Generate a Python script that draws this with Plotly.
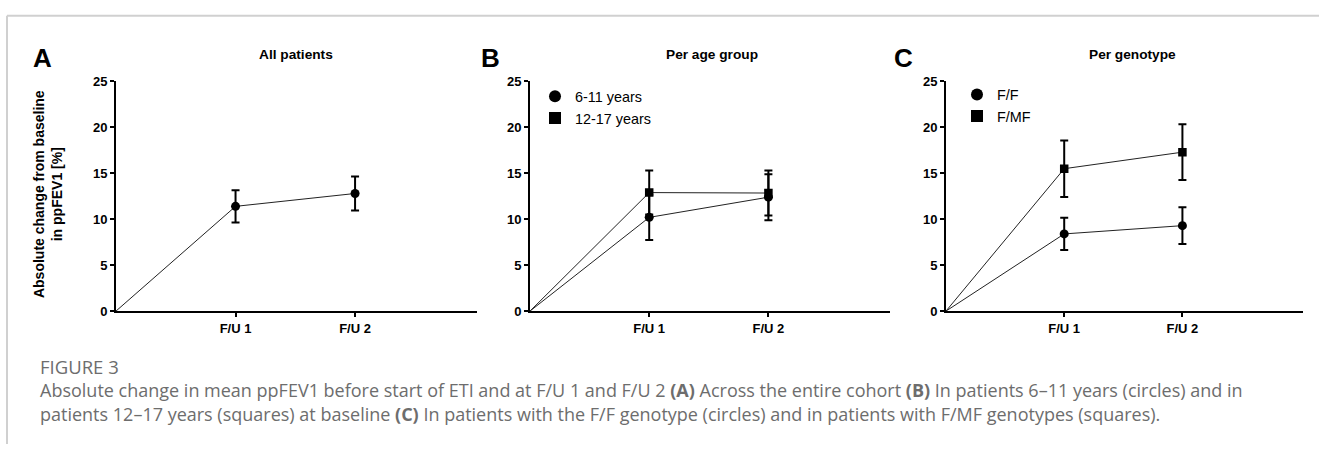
import plotly.graph_objects as go

W, H = 1319, 452

# ---- data ----
timepoints = [0, 1, 2]
tick_labels = ["F/U 1", "F/U 2"]

all_mean = [11.4, 12.8]
all_err = [1.75, 1.85]

age_6_11_mean = [10.2, 12.4]
age_6_11_err = [2.45, 2.5]
age_12_17_mean = [12.9, 12.85]
age_12_17_err = [2.4, 2.45]

ff_mean = [8.4, 9.3]
ff_err = [1.75, 2.0]
fmf_mean = [15.5, 17.3]
fmf_err = [3.07, 3.03]

panel_titles = ["All patients", "Per age group", "Per genotype"]
panel_letters = ["A", "B", "C"]

FONT = "Liberation Sans, Arial, sans-serif"

def px_x(p):
    return p / W

def px_y(p):
    return 1 - p / H

fig = go.Figure()

panels = [
    dict(xa="x", ya="y", series=[("All patients", all_mean, all_err, "circle")], legend=None),
    dict(xa="x2", ya="y2", series=[("6-11 years", age_6_11_mean, age_6_11_err, "circle"),
                                   ("12-17 years", age_12_17_mean, age_12_17_err, "square")], legend="legend"),
    dict(xa="x3", ya="y3", series=[("F/F", ff_mean, ff_err, "circle"),
                                   ("F/MF", fmf_mean, fmf_err, "square")], legend="legend2"),
]

for p in panels:
    for name, mean, err, sym in p["series"]:
        fig.add_trace(go.Scatter(
            x=timepoints, y=[0] + mean, mode="lines",
            line=dict(color="#222222", width=1),
            xaxis=p["xa"], yaxis=p["ya"], showlegend=False, hoverinfo="skip"))
        fig.add_trace(go.Scatter(
            x=timepoints[1:], y=mean, mode="markers",
            marker=dict(symbol=sym, size=9 if sym == "circle" else 8.5, color="black"),
            error_y=dict(type="data", array=err, visible=True, color="black",
                         thickness=2, width=4),
            xaxis=p["xa"], yaxis=p["ya"], showlegend=False))
        if p["legend"]:
            fig.add_trace(go.Scatter(
                x=[None], y=[None], mode="markers", name=name,
                marker=dict(symbol=sym, size=7, color="black"),
                xaxis=p["xa"], yaxis=p["ya"], showlegend=True, legend=p["legend"]))

x_domains = [(116, 477), (530, 890), (946, 1303)]
y_domain = [px_y(314.5), px_y(77)]

axis_common = dict(
    showline=True, linecolor="black", linewidth=2, ticks="outside",
    ticklen=4, tickwidth=2, tickcolor="black", showgrid=False, zeroline=False,
    tickfont=dict(family=FONT, size=13, color="black", weight="bold"),
)

for i, (x0, x1) in enumerate(x_domains):
    sfx = "" if i == 0 else str(i + 1)
    fig.update_layout(**{
        f"xaxis{sfx}": dict(domain=[px_x(x0), px_x(x1)], range=[0, 3.02],
                            tickvals=[1, 2], ticktext=tick_labels,
                            anchor=f"y{sfx}", **axis_common),
        f"yaxis{sfx}": dict(domain=y_domain, range=[0, 25], tickvals=[0, 5, 10, 15, 20, 25],
                            anchor=f"x{sfx}", **axis_common),
    })

annotations = []
title_x = [296, 712, 1132]
letter_x = [42, 491, 903]
for i in range(3):
    annotations.append(dict(x=px_x(title_x[i]), y=px_y(49.5), xref="paper", yref="paper",
                            text=f"<b>{panel_titles[i]}</b>", showarrow=False,
                            font=dict(family=FONT, size=13.7, color="black"),
                            xanchor="center", yanchor="middle"))
    annotations.append(dict(x=px_x(letter_x[i]), y=px_y(53), xref="paper", yref="paper",
                            text=f"<b>{panel_letters[i]}</b>", showarrow=False,
                            font=dict(family=FONT, size=26, color="black"),
                            xanchor="center", yanchor="middle"))

annotations.append(dict(x=px_x(47.5), y=px_y(194), xref="paper", yref="paper",
                        text="<b>Absolute change from baseline<br>in ppFEV1 [%]</b>",
                        showarrow=False, textangle=-90,
                        font=dict(family=FONT, size=14, color="black"),
                        xanchor="center", yanchor="middle"))

CAP = "Open Sans, Lato, sans-serif"
annotations.append(dict(x=px_x(38), y=px_y(371.5), xref="paper", yref="paper",
                        text="FIGURE 3", showarrow=False, align="left",
                        font=dict(family=CAP, size=18.5, color="#6d6d6d"),
                        xanchor="left", yanchor="middle"))
cap_lines = [
    "Absolute change in mean ppFEV1 before start of ETI and at F/U 1 and F/U 2 <b>(A)</b> Across the entire cohort <b>(B)</b> In patients 6\u201311 years (circles) and in",
    "patients 12\u201317 years (squares) at baseline <b>(C)</b> In patients with the F/F genotype (circles) and in patients with F/MF genotypes (squares).",
]
for j, line in enumerate(cap_lines):
    annotations.append(dict(x=px_x(38), y=px_y(396 + 25 * j), xref="paper", yref="paper",
                            text=line, showarrow=False, align="left",
                            font=dict(family=CAP, size=18, color="#6d6d6d"),
                            xanchor="left", yanchor="middle"))

shapes = [
    dict(type="line", xref="paper", yref="paper", x0=px_x(7), x1=1, y0=px_y(9), y1=px_y(9),
         line=dict(color="#d0d0d0", width=2)),
    dict(type="line", xref="paper", yref="paper", x0=px_x(7), x1=px_x(7), y0=px_y(9), y1=0,
         line=dict(color="#d0d0d0", width=2)),
]

legend_common = dict(font=dict(family=FONT, size=14.4, color="black"), bgcolor="rgba(0,0,0,0)",
                     itemsizing="constant", tracegroupgap=0, xanchor="left", yanchor="top",
                     itemwidth=30)

fig.update_layout(
    width=W, height=H, margin=dict(l=0, r=0, t=0, b=0),
    paper_bgcolor="white", plot_bgcolor="white",
    annotations=annotations, shapes=shapes,
    legend=dict(x=px_x(535), y=px_y(76), **legend_common),
    legend2=dict(x=px_x(957), y=px_y(74), **legend_common),
)

post = """
document.documentElement.style.margin='0';
document.body.style.margin='0';
document.body.style.overflow='hidden';
"""

fig.write_html("out.html", config={"displayModeBar": False}, post_script=post)
